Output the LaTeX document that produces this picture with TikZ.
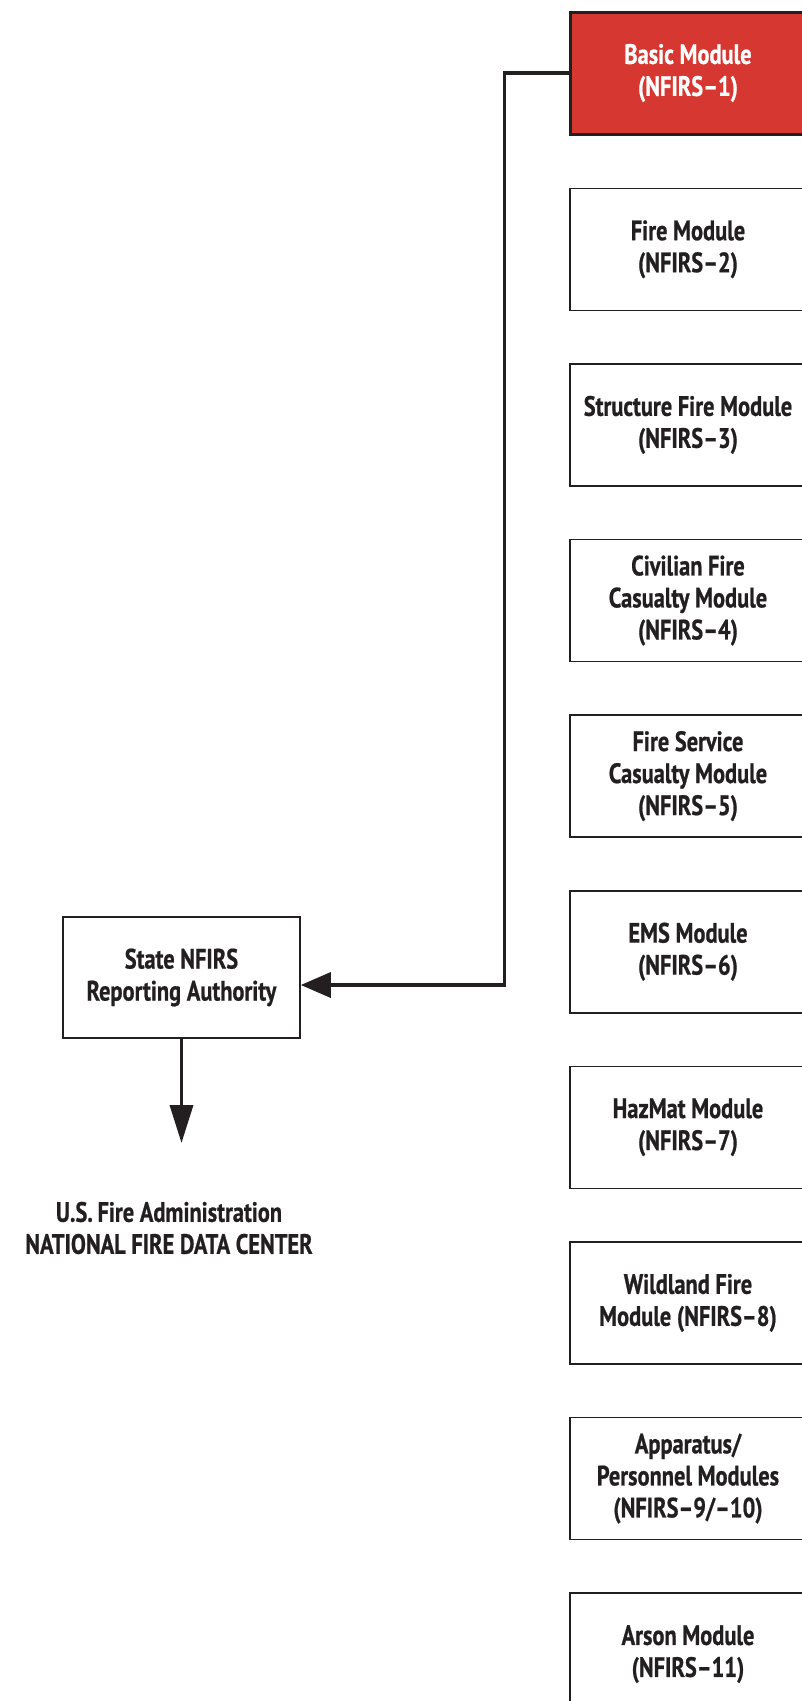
\documentclass[tikz,border=0pt]{standalone}
\usepackage{fontspec}
\setmainfont[FakeStretch=0.8, BoldFeatures={FakeBold=0.7}]{PT Sans}
\usetikzlibrary{arrows.meta,positioning}
\definecolor{nfred}{RGB}{214,55,48}
\definecolor{ink}{RGB}{35,31,32}

\begin{document}
\begin{tikzpicture}[x=1pt,y=-1pt,
    lbl/.style={align=center, text=ink, font=\fontsize{28}{32}\selectfont\bfseries},
    modbox/.style={lbl, draw=ink, line width=1.6pt, minimum width=236pt,
                   minimum height=122pt, inner xsep=2pt},
    basicbox/.style={modbox, fill=nfred, text=white, line width=3pt},
    link/.style={draw=ink, line width=3.5pt},
    tip/.style={-{Triangle[length=30pt,width=25pt]}},
    downtip/.style={-{Triangle[length=38pt,width=23pt]}}]
\useasboundingbox (0,0) rectangle (802,1701);
% modules, top to bottom
\node[basicbox] (m1) at (688,73) {Basic Module\\(NFIRS--1)};
\node[modbox, below=52pt of m1] (m2) {Fire Module\\(NFIRS--2)};
\node[modbox, below=52pt of m2] (m3) {Structure Fire Module\\(NFIRS--3)};
\node[modbox, below=52pt of m3] (m4) {Civilian Fire\\Casualty Module\\(NFIRS--4)};
\node[modbox, below=52pt of m4] (m5) {Fire Service\\Casualty Module\\(NFIRS--5)};
\node[modbox, below=52pt of m5] (m6) {EMS Module\\(NFIRS--6)};
\node[modbox, below=52pt of m6] (m7) {HazMat Module\\(NFIRS--7)};
\node[modbox, below=52pt of m7] (m8) {Wildland Fire\\Module (NFIRS--8)};
\node[modbox, below=52pt of m8] (m9) {Apparatus/\\Personnel Modules\\(NFIRS--9/--10)};
\node[modbox, below=52pt of m9] (m11) {Arson Module\\(NFIRS--11)};
% state authority and data center
\node[modbox, minimum width=237pt, minimum height=121pt] (state) at (181.5,977.5)
     {State NFIRS\\Reporting Authority};
\coordinate (down) at (181.5,1143);
\node[lbl] (nfdc) at (169,1228) {U.S.\,Fire Administration\\NATIONAL FIRE DATA CENTER};
% connectors
\draw[link, tip] (m1.west) -- ++(-64,0) |- ([yshift=-7.5pt]state.east);
\draw[link, downtip] (state.south) -- (down);
\end{tikzpicture}
\end{document}
